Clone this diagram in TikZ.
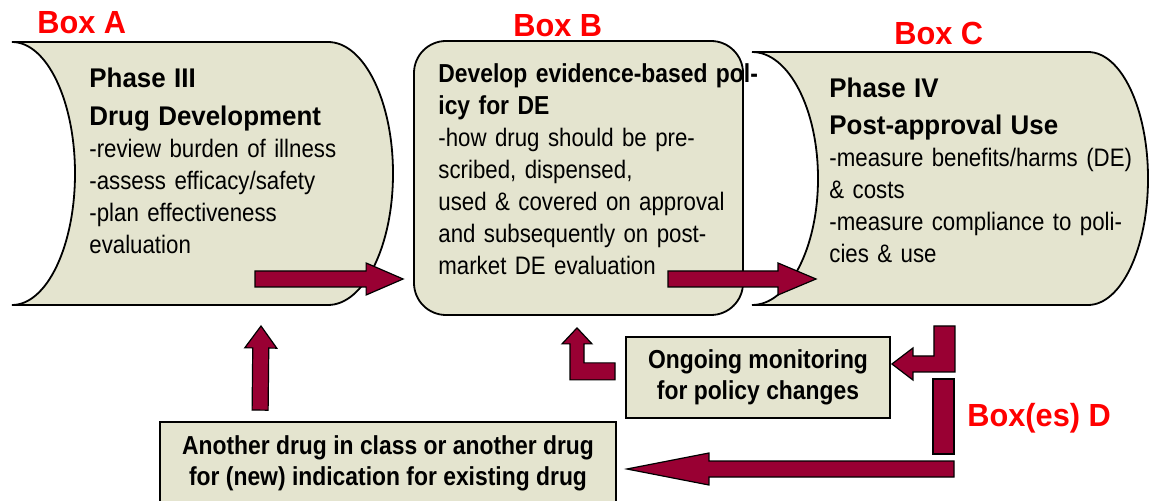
\documentclass[tikz,border=0pt]{standalone}
\usepackage{fontspec}
\setmainfont{Liberation Sans}[FakeStretch=0.88]
\newfontfamily\titlefont{Liberation Sans}[FakeStretch=0.96]
\usepackage{xcolor}
\usepackage{tikz}
\usetikzlibrary{positioning,calc,arrows.meta}
\definecolor{boxfill}{HTML}{E4E4CF}
\definecolor{drugred}{HTML}{990033}
\definecolor{labelred}{HTML}{FF0000}

% block arrow: [head length]{tail}{tip}
\newcommand{\fatarrow}[3][18.5pt]{%
  \filldraw[fat] ($(#2)!4pt!90:(#3)$) -- ($(#3)!#1!(#2)!4pt!-90:(#2)$)
    -- ($(#3)!#1!(#2)!8pt!-90:(#2)$) -- (#3)
    -- ($(#3)!#1!(#2)!8pt!90:(#2)$) -- ($(#3)!#1!(#2)!4pt!90:(#2)$)
    -- ($(#2)!4pt!-90:(#3)$) -- cycle;}

\begin{document}
\begin{tikzpicture}[x=0.5pt, y=-0.5pt,
    card/.style={draw=black, line width=0.9pt, fill=boxfill},
    fat/.style={draw=black, line width=0.6pt, fill=drugred, line join=miter},
    boxlabel/.style={font={\titlefont\bfseries\fontsize{16pt}{18pt}\selectfont}, text=labelred, inner sep=0pt, anchor=base west},
    body/.style={font={\fontsize{12.65pt}{16pt}\selectfont}, inner sep=0pt, anchor=base west, align=left},
    note/.style={card, font={\bfseries\fontsize{13pt}{15.5pt}\selectfont}, align=center, inner sep=0pt}]

    \useasboundingbox (0,0) rectangle (1149,501);

    % the three boxes
    \filldraw[card] (12,42) -- (328,42) arc[start angle=-90, end angle=90, x radius=65, y radius=131.5]
        -- (12,305) arc[start angle=90, end angle=-90, x radius=63, y radius=131.5] -- cycle;
    \node[card, rounded corners=16pt, minimum width=164.5pt, minimum height=137pt] (boxB) at (578.5,178) {};
    \filldraw[card] (752,52) -- (1088,52) arc[start angle=-90, end angle=90, x radius=60, y radius=126.5]
        -- (752,305) arc[start angle=90, end angle=-90, x radius=66, y radius=126.5] -- cycle;

    \node[body, text width=150pt] (txtA) at (89,88)
        {{\titlefont\bfseries\fontsize{13.5pt}{19pt}\selectfont Phase III\\Drug Development\par}
         -review burden of illness\\-assess efficacy/safety\\-plan effectiveness\\evaluation};
    \node[body, text width=170pt] (txtB) at (438,83)
        {{\bfseries\fontsize{13pt}{16pt}\selectfont Develop evidence-based pol-\\icy for DE}\\-how drug should be pre-\\scribed, dispensed,\\used \& covered on approval\\and subsequently on post-\\market DE evaluation};
    \node[body, text width=160pt] (txtC) at (829,98)
        {{\titlefont\bfseries\fontsize{13.5pt}{18.5pt}\selectfont Phase IV\\Post-approval Use\par}
         -measure benefits/harms (DE)\\\& costs\\-measure compliance to poli-\\cies \& use};

    \node[boxlabel] (labA) at (37,34) {Box A};
    \node[boxlabel] (labB) at (513,37) {Box B};
    \node[boxlabel] (labC) at (894,45) {Box C};

    % lower boxes
    \node[note, minimum width=132pt, minimum height=40.5pt] (mon) at (758,377.5) {Ongoing monitoring\\for policy changes};
    \node[note, minimum width=228pt, minimum height=41pt] (other) at (388,463) {Another drug in class or another drug\\for (new) indication for existing drug};
    \node[boxlabel] (labD) at (967,427) {Box(es) D};

    % arrows
    \coordinate (a1) at (255,279);
    \coordinate (a2) at ($(boxB.west |- a1)+(-10,0)$);
    \fatarrow{a1}{a2}
    \coordinate (b1) at (668,279);
    \coordinate (b2) at (816,279);
    \fatarrow[19pt]{b1}{b2}
    \coordinate (o1) at ($(other.north west)+(101,-11)$);
    \coordinate (o2) at (261,326);
    \fatarrow[11pt]{o1}{o2}
    \coordinate (d3) at (954,469);
    \coordinate (d4) at ($(other.east |- d3)+(10,0)$);
    \fatarrow[41pt]{d3}{d4}

    \coordinate (btip) at ($(boxB.south)+(-1.5,12)$);
    \filldraw[fat] (btip) -- ++(15,16) -- ++(-8,0) -- ++(0,19) -- ++(31,0) -- ++(0,17)
        -- ++(-45,0) -- ++(0,-36) -- ++(-8,0) -- cycle;
    \coordinate (mtip) at ($(mon.east)+(1,-13.5)$);
    \filldraw[fat] (mtip) -- ++(21,-16) -- ++(0,8) -- ++(21,0) -- ++(0,-30) -- ++(21,0)
        -- ++(0,46) -- ++(-42,0) -- ++(0,8) -- cycle;
    \filldraw[fat] (933,379) rectangle (954,454);
\end{tikzpicture}
\end{document}
